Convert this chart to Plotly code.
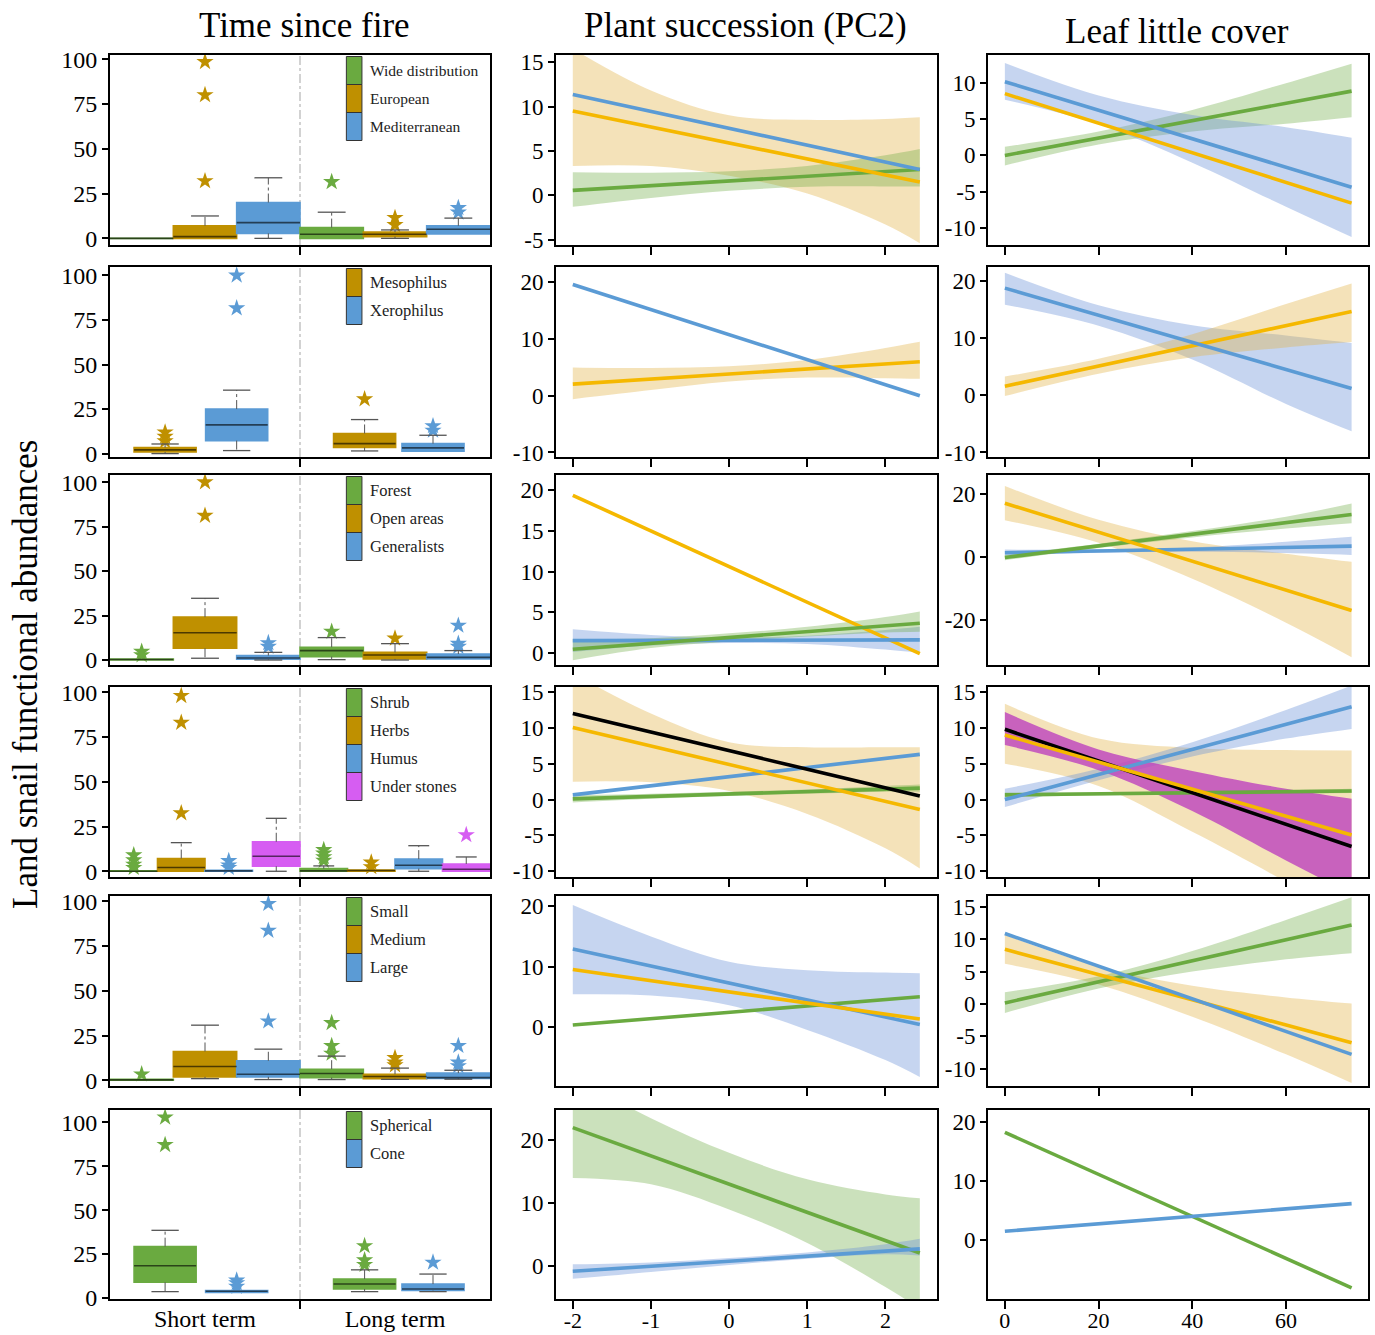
import plotly.graph_objects as go
from plotly.subplots import make_subplots

W, H = 1375, 1335
FONT = "Liberation Serif, Times New Roman, serif"

# ---------------- colours ----------------
BOX_COL = {"green": "#6AAA40", "gold": "#BF9000", "blue": "#5B9BD5", "magenta": "#D65DF2"}
LINE_COL = {"green": "#6AAA40", "gold": "#F5B800", "blue": "#5B9BD5", "black": "#000000"}
BAND_COL = {"green": "rgba(106,170,64,0.35)", "gold": "rgba(227,180,70,0.38)",
            "blue": "rgba(105,145,215,0.38)", "magenta": "rgba(190,70,190,0.82)"}

# ---------------- column 1 : Time since fire (box plots) ----------------
PERIODS = ["Short term", "Long term"]

R1_GROUPS = ["Wide distribution", "European", "Mediterranean"]
R1_KEYS = ["green", "gold", "blue"]
R1_Q1 = [0, 0, 2.8, 0, 1.0, 2.4]
R1_MED = [0, 1.0, 8.8, 2.3, 2.3, 5.1]
R1_Q3 = [0, 7.0, 20.0, 6.0, 3.5, 7.0]
R1_LO = [0, 0, 0, 0, 0, 2.4]
R1_HI = [0, 12.5, 33.8, 14.6, 4.7, 11.3]
R1_OUT = [[], [98.5, 80, 32], [], [31.5], [11.5, 7.5], [17, 14.5]]

R2_GROUPS = ["Mesophilus", "Xerophilus"]
R2_KEYS = ["gold", "blue"]
R2_Q1 = [1.0, 7.3, 3.4, 1.3]
R2_MED = [2.1, 16.1, 5.6, 3.2]
R2_Q3 = [3.4, 25.0, 11.3, 5.6]
R2_LO = [0, 1.7, 1.5, 1.3]
R2_HI = [5.4, 35.6, 19.1, 10.3]
R2_OUT = [[12, 9.5, 7], [100, 81.6], [30.6], [15.5, 13]]

R3_GROUPS = ["Forest", "Open areas", "Generalists"]
R3_KEYS = ["green", "gold", "blue"]
R3_Q1 = [0, 6.6, 0.4, 1.9, 0.6, 0.6]
R3_MED = [0.3, 15.3, 1.1, 5.3, 2.8, 1.5]
R3_Q3 = [0.5, 24.1, 2.5, 7.2, 4.3, 3.4]
R3_LO = [0, 1.0, 0, 0.2, 0, 0.6]
R3_HI = [0.5, 34.7, 4.3, 12.6, 9.2, 5.3]
R3_OUT = [[4.7, 2.8], [100, 81.2], [9.6, 7.5], [16], [12.2], [19.4, 9.2, 7.5]]

R4_GROUPS = ["Shrub", "Herbs", "Humus", "Under stones"]
R4_KEYS = ["green", "gold", "blue", "magenta"]
R4_Q1 = [0, 0, 0, 2.8, 0, 0, 1.5, 0]
R4_MED = [0, 2.1, 0.2, 8.4, 0.2, 0.4, 3.4, 1.1]
R4_Q3 = [0.3, 7.1, 0.5, 16.5, 1.5, 0.7, 6.8, 4.1]
R4_LO = [0, 0, 0, 0, 0, 0, 0, 0]
R4_HI = [0.3, 16.0, 0.5, 29.6, 3.0, 0.7, 14.3, 8.0]
R4_OUT = [[9, 6.2, 3.8, 2], [98.1, 83.1, 32.5], [5.8, 3.4, 2], [], [12, 10, 8, 6], [5, 2.4], [], [20.3]]

R5_GROUPS = ["Small", "Medium", "Large"]
R5_KEYS = ["green", "gold", "blue"]
R5_Q1 = [0, 1.9, 1.9, 1.5, 0.9, 1.0]
R5_MED = [0.2, 7.7, 3.4, 3.75, 2.1, 1.5]
R5_Q3 = [0.5, 16.1, 10.9, 6.2, 3.4, 4.0]
R5_LO = [0, 0.9, 0.4, 0.4, 0.5, 0.6]
R5_HI = [0.5, 30.8, 17.4, 13.5, 6.8, 5.6]
R5_OUT = [[3.4], [], [98.7, 83.7, 33], [32.1, 19.3, 15], [12.5, 10, 8.5], [19.3, 10, 8]]

R6_GROUPS = ["Spherical", "Cone"]
R6_KEYS = ["green", "blue"]
R6_Q1 = [8.9, 3.2, 5.1, 4.2]
R6_MED = [18.3, 3.8, 7.9, 5.1]
R6_Q3 = [29.2, 4.2, 10.8, 7.9]
R6_LO = [3.6, 3.2, 3.6, 3.6]
R6_HI = [38.5, 4.2, 16.0, 13.6]
R6_OUT = [[102.8, 87.2], [10, 8.5, 6.5], [29.6, 21.5, 18.9], [20.2]]

# ---------------- column 2 : Plant succession (PC2) ----------------
PC2_FIT_X = [-2, 2.44]
PC2_BAND_X = [-2, -1, 0, 1, 2, 2.44]
PC2_TICKS = [-2, -1, 0, 1, 2]
# ---------------- column 3 : Leaf litter cover ----------------
LEAF_FIT_X = [0, 74]
LEAF_BAND_X = [0, 20, 40, 60, 74]
LEAF_TICKS = [0, 20, 40, 60]

R1_PC2_FIT = {"green": [0.55, 2.9], "gold": [9.5, 1.5], "blue": [11.35, 2.9]}
R1_PC2_BAND = {"gold": ([16.5, 11.8, 9.0, 8.5, 8.6, 8.8], [3.3, 3.3, 2.2, 0.2, -3.3, -5.4]),
               "green": ([2.6, 2.55, 2.7, 3.3, 4.5, 5.2], [-1.3, -0.3, 0.5, 0.95, 1.0, 1.0])}
R1_LEAF_FIT = {"green": [0, 8.9], "gold": [8.55, -6.6], "blue": [10.2, -4.4]}
R1_LEAF_BAND = {"green": ([1.2, 3.3, 6.3, 10.0, 12.7], [-1.4, 1.5, 3.3, 4.4, 5.3]),
                "blue": ([12.8, 8.3, 5.6, 3.9, 2.45], [7.7, 4.3, -1.0, -7.1, -11.3])}

R2_PC2_FIT = {"gold": [2.05, 6.0], "blue": [19.6, 0.0]}
R2_PC2_BAND = {"gold": ([5.0, 4.9, 5.2, 6.3, 8.4, 9.5], [-0.6, 1.0, 2.5, 3.2, 3.1, 3.0])}
R2_LEAF_FIT = {"gold": [1.6, 14.7], "blue": [18.8, 1.2]}
R2_LEAF_BAND = {"blue": ([21.5, 15.8, 12.3, 10.5, 9.2], [15.9, 12.2, 6.3, -1.5, -6.3]),
                "gold": ([3.3, 6.4, 10.7, 16.0, 19.6], [-0.1, 3.8, 6.7, 8.4, 9.35])}

R3_PC2_FIT = {"gold": [19.4, -0.1], "blue": [1.5, 1.6], "green": [0.45, 3.65]}
R3_PC2_BAND = {"blue": ([2.9, 2.2, 1.9, 2.1, 2.8, 3.2], [0.1, 0.9, 1.2, 1.1, 0.4, 0.0]),
               "green": ([1.7, 1.8, 2.4, 3.2, 4.4, 5.1], [-0.9, 0.6, 1.4, 2.0, 2.5, 2.6])}
R3_LEAF_FIT = {"blue": [1.3, 3.4], "green": [-0.2, 13.5], "gold": [17.1, -17.1]}
R3_LEAF_BAND = {"gold": ([22.6, 11.8, 5.0, 1.0, -1.6], [11.7, 4.5, -7.0, -21.0, -32.0]),
                "green": ([0.6, 4.2, 8.2, 12.8, 17.0], [-1.1, 2.8, 6.2, 9.0, 10.7]),
                "blue": ([2.3, 2.4, 3.0, 4.8, 6.4], [0.4, 1.3, 1.6, 1.2, 0.6])}

R4_PC2_FIT = {"green": [0.1, 1.6], "blue": [0.65, 6.3], "black": [12.0, 0.5], "gold": [10.05, -1.4]}
R4_PC2_BAND = {"gold": ([17.6, 12.0, 8.0, 7.3, 7.3, 7.3], [2.5, 2.4, 1.2, -2.0, -6.8, -9.6]),
               "green": ([0.6, 0.8, 1.1, 1.4, 1.9, 2.1], [-0.4, 0.1, 0.5, 0.8, 1.1, 1.1])}
R4_LEAF_FIT = {"green": [0.65, 1.2], "blue": [0, 12.95], "black": [9.8, -6.55], "gold": [9.0, -4.95]}
R4_LEAF_BAND = {"gold": ([13.35, 8.5, 7.2, 6.9, 6.85], [5.0, 1.9, -4.5, -11.5, -17.0]),
                "blue": ([1.5, 4.3, 8.0, 12.5, 15.9], [-1.05, 2.7, 6.0, 8.5, 9.85]),
                "green": ([1.0, 1.0, 1.1, 1.3, 1.5], [0.3, 0.6, 0.7, 0.8, 0.9]),
                "magenta": ([12.2, 7.0, 4.0, 1.5, 0.1], [7.6, 4.1, -1.6, -8.5, -13.2])}

R5_PC2_FIT = {"green": [0.3, 5.0], "blue": [12.9, 0.4], "gold": [9.5, 1.3]}
R5_PC2_BAND = {"blue": ([20.2, 15.0, 10.8, 9.4, 9.0, 8.9], [5.4, 5.2, 3.6, -0.5, -5.5, -8.3])}
R5_LEAF_FIT = {"green": [0.15, 12.2], "gold": [8.45, -6.0], "blue": [10.9, -7.8]}
R5_LEAF_BAND = {"gold": ([10.7, 5.8, 2.8, 1.0, 0.05], [6.2, 3.0, -2.0, -7.8, -12.25]),
                "green": ([1.8, 4.3, 8.2, 13.0, 16.5], [-1.4, 2.4, 5.0, 6.9, 7.85])}

R6_PC2_FIT = {"green": [22.0, 2.1], "blue": [-0.8, 2.75]}
R6_PC2_BAND = {"green": ([30, 23.5, 18.0, 13.8, 11.4, 10.8], [14.0, 13.0, 9.0, 3.7, -3.3, -6.7]),
               "blue": ([0.3, 0.6, 1.3, 2.2, 3.5, 4.35], [-2.0, -0.9, 0.2, 1.2, 1.9, 1.7])}
R6_LEAF_FIT = {"green": [18.2, -8.2], "blue": [1.4, 6.1]}
R6_LEAF_BAND = {}

# ---------------- axis set-up ----------------
BOX_TICKS = [0, 25, 50, 75, 100]
BOX_Y_RANGES = [[-3.7, 102.3], [-1.9, 104.7], [-2.8, 104], [-3.2, 103], [-3.2, 103], [-0.6, 107]]
PC2_Y = [([-5.6, 15.8], [-5, 0, 5, 10, 15]), ([-10.8, 22.7], [-10, 0, 10, 20]),
         ([-1.5, 21.9], [0, 5, 10, 15, 20]), ([-10.8, 15.7], [-10, -5, 0, 5, 10, 15]),
         ([-9.8, 21.7], [-10, 0, 10, 20]), ([-5.2, 24.8], [0, 10, 20])]
LEAF_Y = [([-12.4, 13.9], [-10, -5, 0, 5, 10]), ([-10.8, 22.5], [-10, 0, 10, 20]),
          ([-34.5, 26.1], [-20, 0, 20]), ([-10.8, 15.7], [-10, -5, 0, 5, 10, 15]),
          ([-12.7, 16.7], [-10, -5, 0, 5, 10, 15]), ([-10.1, 22.0], [0, 10, 20])]

ROW_PX = [(55, 245), (267, 457), (475, 665), (687, 877), (896, 1086), (1110, 1299)]
COL_PX = [(110, 490), (556, 937), (988, 1368)]

fig = make_subplots(rows=6, cols=3)


def idx(r, c):
    return (r - 1) * 3 + c


def ax_names(r, c):
    i = idx(r, c)
    return ("x" if i == 1 else f"x{i}"), ("y" if i == 1 else f"y{i}")


def layout_keys(r, c):
    i = idx(r, c)
    return ("xaxis" if i == 1 else f"xaxis{i}"), ("yaxis" if i == 1 else f"yaxis{i}")


def labels(vals):
    return [str(v) for v in vals]   # plain hyphen-minus like the reference


BOX_ROWS = [
    (R1_GROUPS, R1_KEYS, R1_Q1, R1_MED, R1_Q3, R1_LO, R1_HI, R1_OUT),
    (R2_GROUPS, R2_KEYS, R2_Q1, R2_MED, R2_Q3, R2_LO, R2_HI, R2_OUT),
    (R3_GROUPS, R3_KEYS, R3_Q1, R3_MED, R3_Q3, R3_LO, R3_HI, R3_OUT),
    (R4_GROUPS, R4_KEYS, R4_Q1, R4_MED, R4_Q3, R4_LO, R4_HI, R4_OUT),
    (R5_GROUPS, R5_KEYS, R5_Q1, R5_MED, R5_Q3, R5_LO, R5_HI, R5_OUT),
    (R6_GROUPS, R6_KEYS, R6_Q1, R6_MED, R6_Q3, R6_LO, R6_HI, R6_OUT),
]
TWO_GROUP_POS = [0.87, 2.0, 4.02, 5.1]

for r, (groups, keys, q1, med, q3, lo, hi, outs) in enumerate(BOX_ROWS, start=1):
    n = len(groups)
    if n == 2:
        pos = TWO_GROUP_POS
        xmax = 6
        bw = 0.98
    else:
        pos = [k + 0.5 for k in range(2 * n)]
        xmax = 2 * n
        bw = 1.0
    wx, wy, cx, cy, mx, my = [], [], [], [], [], []
    for k in range(2 * n):
        key = keys[k % n]
        col = BOX_COL[key]
        fig.add_trace(go.Box(x=[pos[k]], q1=[q1[k]], median=[med[k]], q3=[q3[k]],
                             lowerfence=[q1[k]], upperfence=[q3[k]], width=bw,
                             fillcolor=col, line=dict(color=col, width=1.6),
                             whiskerwidth=0, boxpoints=False, showlegend=False,
                             hoverinfo="skip"), row=r, col=1)
        p = pos[k]
        cw = bw * 0.22
        if hi[k] > q3[k]:
            wx += [p, p, None]; wy += [q3[k], hi[k], None]
            cx += [p - cw, p + cw, None]; cy += [hi[k], hi[k], None]
        if lo[k] < q1[k]:
            wx += [p, p, None]; wy += [q1[k], lo[k], None]
            cx += [p - cw, p + cw, None]; cy += [lo[k], lo[k], None]
        mx += [p - bw / 2, p + bw / 2, None]; my += [med[k], med[k], None]
        if outs[k]:
            fig.add_trace(go.Scatter(x=[p] * len(outs[k]), y=outs[k], mode="markers",
                                     marker=dict(symbol="star", size=13, color=col,
                                                 line=dict(width=0)),
                                     showlegend=False, hoverinfo="skip"), row=r, col=1)
    fig.add_trace(go.Scatter(x=wx, y=wy, mode="lines",
                             line=dict(color="#555555", width=1, dash="dashdot"),
                             showlegend=False, hoverinfo="skip"), row=r, col=1)
    fig.add_trace(go.Scatter(x=cx, y=cy, mode="lines", line=dict(color="#555555", width=1.3),
                             showlegend=False, hoverinfo="skip"), row=r, col=1)
    fig.add_trace(go.Scatter(x=mx, y=my, mode="lines", line=dict(color="rgba(0,0,0,0.6)", width=1.6),
                             showlegend=False, hoverinfo="skip"), row=r, col=1)

    xa, ya = ax_names(r, 1)
    # divider between periods
    fig.add_shape(type="line", x0=xmax / 2, x1=xmax / 2, y0=0, y1=1, xref=xa, yref=f"{ya} domain",
                  line=dict(color="#B5B5B5", width=1.2, dash="dashdot"), layer="below")
    # legend key
    ph = ROW_PX[r - 1][1] - ROW_PX[r - 1][0]
    sw_h = 28.0 / ph
    top = 1 - 1.5 / ph
    for g, (name, key) in enumerate(zip(groups, keys)):
        y1 = top - g * sw_h
        y0 = y1 - sw_h
        fig.add_shape(type="rect", x0=0.622, x1=0.663, y0=y0, y1=y1,
                      xref=f"{xa} domain", yref=f"{ya} domain",
                      fillcolor=BOX_COL[key], line=dict(color="#333333", width=1))
        fig.add_annotation(x=0.68, y=(y0 + y1) / 2, xref=f"{xa} domain", yref=f"{ya} domain",
                           text=name, showarrow=False, xanchor="left", yanchor="middle",
                           font=dict(family=FONT, size=15.5 if r == 1 else 16.5, color="#222222"))

    xk, yk = layout_keys(r, 1)
    bottom = r == 6
    fig.layout[xk].update(range=[0, xmax], tickmode="array",
                          tickvals=[xmax / 4, 3 * xmax / 4], ticktext=PERIODS,
                          ticks="", showticklabels=bottom, ticklabelstandoff=-3,
                          tickfont=dict(family=FONT, size=24, color="black"),
                          minor=dict(tickmode="array", tickvals=[xmax / 2], ticks="outside",
                                     ticklen=8, tickwidth=2, tickcolor="black"))
    fig.layout[yk].update(range=BOX_Y_RANGES[r - 1], tickmode="array",
                          tickvals=BOX_TICKS, ticktext=labels(BOX_TICKS),
                          tickfont=dict(family=FONT, size=24, color="black"))

LINE_PANELS = [
    (R1_PC2_FIT, R1_PC2_BAND, R1_LEAF_FIT, R1_LEAF_BAND),
    (R2_PC2_FIT, R2_PC2_BAND, R2_LEAF_FIT, R2_LEAF_BAND),
    (R3_PC2_FIT, R3_PC2_BAND, R3_LEAF_FIT, R3_LEAF_BAND),
    (R4_PC2_FIT, R4_PC2_BAND, R4_LEAF_FIT, R4_LEAF_BAND),
    (R5_PC2_FIT, R5_PC2_BAND, R5_LEAF_FIT, R5_LEAF_BAND),
    (R6_PC2_FIT, R6_PC2_BAND, R6_LEAF_FIT, R6_LEAF_BAND),
]


def add_lines(r, c, fits, bands, fx, bx):
    for key, (up, low) in bands.items():
        fig.add_trace(go.Scatter(x=bx, y=low, mode="lines", line=dict(width=0, shape="spline"),
                                 showlegend=False, hoverinfo="skip"), row=r, col=c)
        fig.add_trace(go.Scatter(x=bx, y=up, mode="lines", line=dict(width=0, shape="spline"),
                                 fill="tonexty", fillcolor=BAND_COL[key],
                                 showlegend=False, hoverinfo="skip"), row=r, col=c)
    for key, ys in fits.items():
        fig.add_trace(go.Scatter(x=fx, y=ys, mode="lines",
                                 line=dict(color=LINE_COL[key], width=3.6),
                                 showlegend=False, hoverinfo="skip"), row=r, col=c)


TICKFONT = dict(family=FONT, size=23, color="black")
XBOTTOMFONT = dict(family=FONT, size=22, color="black")
for r, (pf, pb, lf, lb) in enumerate(LINE_PANELS, start=1):
    add_lines(r, 2, pf, pb, PC2_FIT_X, PC2_BAND_X)
    add_lines(r, 3, lf, lb, LEAF_FIT_X, LEAF_BAND_X)
    bottom = r == 6
    xk, yk = layout_keys(r, 2)
    fig.layout[xk].update(range=[-2.215, 2.66], tickmode="array", tickvals=PC2_TICKS,
                          ticktext=labels(PC2_TICKS), tickfont=XBOTTOMFONT, ticklabelstandoff=-7,
                          ticks="outside", ticklen=8, tickwidth=2, showticklabels=bottom)
    fig.layout[yk].update(range=PC2_Y[r - 1][0], tickmode="array", tickvals=PC2_Y[r - 1][1],
                          ticktext=labels(PC2_Y[r - 1][1]), tickfont=TICKFONT)
    xk, yk = layout_keys(r, 3)
    fig.layout[xk].update(range=[-3.6, 77.5], tickmode="array", tickvals=LEAF_TICKS,
                          ticktext=labels(LEAF_TICKS), tickfont=XBOTTOMFONT, ticklabelstandoff=-7,
                          ticks="outside", ticklen=8, tickwidth=2, showticklabels=bottom)
    fig.layout[yk].update(range=LEAF_Y[r - 1][0], tickmode="array", tickvals=LEAF_Y[r - 1][1],
                          ticktext=labels(LEAF_Y[r - 1][1]), tickfont=TICKFONT)

# common axis styling and domains
for r in range(1, 7):
    for c in range(1, 4):
        xk, yk = layout_keys(r, c)
        x0p, x1p = COL_PX[c - 1]
        t, b = ROW_PX[r - 1]
        fig.layout[xk].update(domain=[x0p / W, x1p / W], showline=True, mirror=True,
                              linecolor="black", linewidth=2, showgrid=False, zeroline=False,
                              tickcolor="black", fixedrange=True, automargin=False)
        fig.layout[yk].update(domain=[1 - b / H, 1 - t / H], showline=True, mirror=True,
                              linecolor="black", linewidth=2, showgrid=False, zeroline=False,
                              ticks="outside", ticklen=6, tickwidth=2, tickcolor="black",
                              fixedrange=True, automargin=False)

# titles
TITLES = [("Time since fire", 304, 25), ("Plant succession (PC2)", 745, 25), ("Leaf little cover", 1177, 32)]
for text, px, py in TITLES:
    fig.add_annotation(x=px / W, y=1 - py / H, xref="paper", yref="paper", text=text,
                       showarrow=False, xanchor="center", yanchor="middle",
                       font=dict(family=FONT, size=35, color="black"))
fig.add_annotation(x=25 / W, y=1 - 675 / H, xref="paper", yref="paper",
                   text="Land snail functional abundances", textangle=-90, showarrow=False,
                   xanchor="center", yanchor="middle", font=dict(family=FONT, size=35, color="black"))

fig.update_layout(width=W, height=H, margin=dict(l=0, r=0, t=0, b=0, autoexpand=False),
                  plot_bgcolor="white", paper_bgcolor="white", boxmode="overlay",
                  showlegend=False, font=dict(family=FONT))

fig.write_html("out.html", config={"displayModeBar": False},
               post_script="document.body.style.margin='0';document.body.style.overflow='hidden';")
